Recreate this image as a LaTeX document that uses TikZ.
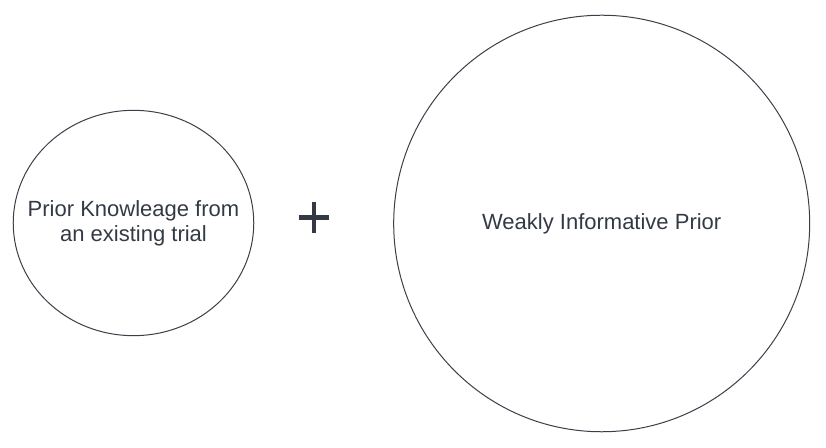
\documentclass[tikz,border=0pt]{standalone}
\usepackage{fontspec}
\setmainfont{Liberation Sans}
\usetikzlibrary{shapes.geometric}
\definecolor{ink}{HTML}{333A45}
\definecolor{rim}{HTML}{3A3F48}
\tikzset{
  blob/.style={ellipse, draw=rim, line width=0.75pt, inner sep=0pt},
  caption/.style={text=ink, align=center, inner sep=0pt,
    font=\fontsize{16.5pt}{18.8pt}\selectfont},
  plusbar/.style={draw=ink, line width=3.4pt}
}
\begin{document}
\begin{tikzpicture}[x=0.75pt, y=-0.75pt]
  \useasboundingbox (0,0) rectangle (826,448);
  % left prior: existing-trial knowledge
  \node[blob, minimum width=180.4pt, minimum height=169pt] (prior) at (133.5,223) {};
  \node[caption] (priortext) at (133.5,223.5) {Prior Knowleage from\\an existing trial};
  % right prior: weakly informative
  \node[blob, minimum width=312pt, minimum height=312.4pt] (weak) at (601.7,223.5) {};
  \node[caption] (weaktext) at (601.7,223.5) {Weakly Informative Prior};
  % plus sign between the two
  \coordinate (plus) at (314,217.5);
  \draw[plusbar] ([xshift=-11.5pt]plus) -- ([xshift=11.5pt]plus);
  \draw[plusbar] ([yshift=-11.5pt]plus) -- ([yshift=11.5pt]plus);
\end{tikzpicture}
\end{document}
